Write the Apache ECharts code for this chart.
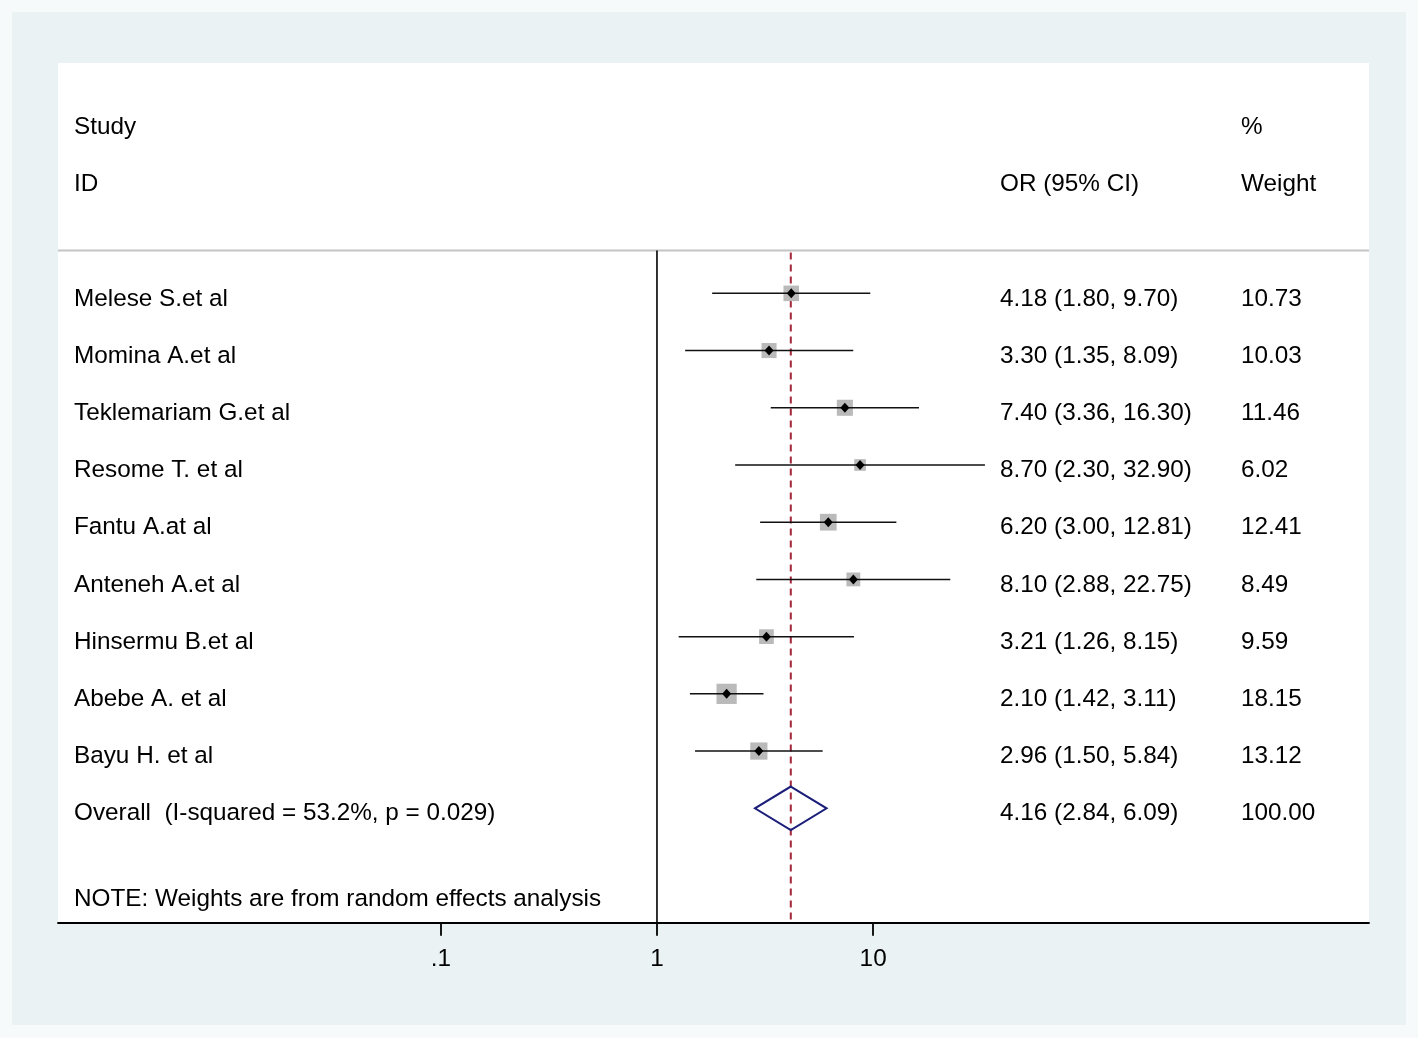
<!DOCTYPE html>
<html><head><meta charset="utf-8">
<script src="https://cdn.jsdelivr.net/npm/echarts@6/dist/echarts.min.js"></script>
<style>html,body{margin:0;padding:0;background:#f6fafa;} #c{width:1418px;height:1038px;}</style>
</head><body><div id="c"></div>
<script>
// ---------- data ----------
const studies = ['Melese S.et al','Momina A.et al','Teklemariam G.et al','Resome T. et al','Fantu A.at al','Anteneh A.et al','Hinsermu B.et al','Abebe A. et al','Bayu H. et al'];
const oddsRatios = [4.18, 3.30, 7.40, 8.70, 6.20, 8.10, 3.21, 2.10, 2.96];
const ciLower = [1.80, 1.35, 3.36, 2.30, 3.00, 2.88, 1.26, 1.42, 1.50];
const ciUpper = [9.70, 8.09, 16.30, 32.90, 12.81, 22.75, 8.15, 3.11, 5.84];
const weights = [10.73, 10.03, 11.46, 6.02, 12.41, 8.49, 9.59, 18.15, 13.12];
const overallOR = 4.16, overallLower = 2.84, overallUpper = 6.09, overallWeight = 100.00;
const overallLabel = 'Overall  (I-squared = 53.2%, p = 0.029)';
const noteText = 'NOTE: Weights are from random effects analysis';
const tickValues = [0.1, 1, 10];
const tickLabels = ['.1', '1', '10'];

// ---------- layout ----------
const X_MIN = -2.771, X_MAX = 3.294, Y_MIN = -4.026, Y_MAX = 11.0;
const SEP_ROW = -0.75;
const FONT = '"Liberation Sans", Arial, Helvetica, sans-serif';
const FS = 24.3;
const TEXT_DY = 5.5;
const COL_STUDY = 74, COL_OR = 1000, COL_W = 1241;
const L = Math.log10;
const fmt = v => v.toFixed(2);

const textRows = [
  {row: -3, cols: ['Study', '', '%']},
  {row: -2, cols: ['ID', 'OR (95% CI)', 'Weight']}
];
studies.forEach((s, i) => textRows.push({row: i, cols: [s, `${fmt(oddsRatios[i])} (${fmt(ciLower[i])}, ${fmt(ciUpper[i])})`, fmt(weights[i])]}));
textRows.push({row: studies.length, cols: [overallLabel, `${fmt(overallOR)} (${fmt(overallLower)}, ${fmt(overallUpper)})`, fmt(overallWeight)]});
textRows.push({row: studies.length + 1.5, cols: [noteText, '', '']});

const chart = echarts.init(document.getElementById('c'), null, {renderer: 'canvas'});

function txt(x, y, t) {
  return {type: 'text', style: {text: t, x: x, y: y, fill: '#000', fontSize: FS, fontFamily: FONT, align: 'left', verticalAlign: 'middle'}};
}

chart.setOption({
  animation: false,
  backgroundColor: '#f6fafa',
  graphic: [{type: 'rect', shape: {x: 12, y: 12, width: 1394, height: 1013}, style: {fill: '#eaf2f3'}, z: -10}],
  grid: {left: 58, top: 63, right: 49, bottom: 115.3, show: true, backgroundColor: '#ffffff', borderWidth: 0},
  xAxis: {
    type: 'value', min: X_MIN, max: X_MAX,
    axisLine: {show: true, onZero: false, lineStyle: {color: '#000', width: 1.8}},
    axisTick: {show: true, customValues: tickValues.map(L), length: 13, lineStyle: {color: '#000', width: 1.8}},
    axisLabel: {show: true, customValues: tickValues.map(L), margin: 25, color: '#000', fontSize: FS, fontFamily: FONT,
      formatter: v => { const i = tickValues.findIndex(t => Math.abs(L(t) - v) < 1e-6); return i >= 0 ? tickLabels[i] : ''; }},
    splitLine: {show: false}
  },
  yAxis: {type: 'value', inverse: true, min: Y_MIN, max: Y_MAX, show: false, splitLine: {show: false}},
  series: [
    {
      type: 'custom', name: 'frame', data: [[0]], z: 1, silent: true,
      renderItem: (p, api) => {
        const a = api.coord([X_MIN, SEP_ROW]), b = api.coord([X_MAX, SEP_ROW]);
        const v1 = api.coord([0, SEP_ROW]), v2 = api.coord([0, Y_MAX]);
        const d1 = api.coord([L(overallOR), SEP_ROW]), d2 = api.coord([L(overallOR), Y_MAX]);
        return {type: 'group', children: [
          {type: 'line', shape: {x1: a[0], y1: a[1], x2: b[0], y2: b[1]}, style: {stroke: '#c4c4c4', lineWidth: 2}},
          {type: 'line', shape: {x1: v1[0], y1: v1[1], x2: v2[0], y2: v2[1]}, style: {stroke: '#000', lineWidth: 1.6}},
          {type: 'line', shape: {x1: d1[0], y1: d1[1] + 2, x2: d2[0], y2: d2[1]}, style: {stroke: '#a3283c', lineWidth: 2, lineDash: [7, 5]}}
        ]};
      }
    },
    {
      type: 'custom', name: 'studies', z: 3, silent: true,
      data: studies.map((s, i) => [i, L(oddsRatios[i]), L(ciLower[i]), L(ciUpper[i]), weights[i]]),
      renderItem: (p, api) => {
        const row = api.value(0);
        const c = api.coord([api.value(1), row]);
        const lo = api.coord([api.value(2), row]);
        const hi = api.coord([api.value(3), row]);
        const s = 4.75 * Math.sqrt(api.value(4));
        return {type: 'group', children: [
          {type: 'rect', shape: {x: c[0] - s / 2, y: c[1] - s / 2, width: s, height: s}, style: {fill: '#bababa'}},
          {type: 'line', shape: {x1: lo[0], y1: lo[1], x2: hi[0], y2: hi[1]}, style: {stroke: '#111', lineWidth: 1.5}},
          {type: 'polygon', shape: {points: [[c[0], c[1] - 5], [c[0] + 4.5, c[1]], [c[0], c[1] + 5], [c[0] - 4.5, c[1]]]}, style: {fill: '#000'}}
        ]};
      }
    },
    {
      type: 'custom', name: 'overall', z: 4, silent: true,
      data: [[studies.length, L(overallOR), L(overallLower), L(overallUpper)]],
      renderItem: (p, api) => {
        const row = api.value(0);
        const top = api.coord([api.value(1), row - 0.38]);
        const bot = api.coord([api.value(1), row + 0.38]);
        const lo = api.coord([api.value(2), row]);
        const hi = api.coord([api.value(3), row]);
        return {type: 'polygon', shape: {points: [top, hi, bot, lo]}, style: {fill: 'none', stroke: '#1c1f7a', lineWidth: 2}};
      }
    },
    {
      type: 'custom', name: 'text', z: 5, silent: true,
      data: textRows.map(r => [r.row]),
      renderItem: (p, api) => {
        const r = textRows[p.dataIndex];
        const y = api.coord([0, api.value(0)])[1] + TEXT_DY;
        const ch = [];
        if (r.cols[0]) ch.push(txt(COL_STUDY, y, r.cols[0]));
        if (r.cols[1]) ch.push(txt(COL_OR, y, r.cols[1]));
        if (r.cols[2]) ch.push(txt(COL_W, y, r.cols[2]));
        return {type: 'group', children: ch};
      }
    }
  ]
});
</script>
</body></html>
